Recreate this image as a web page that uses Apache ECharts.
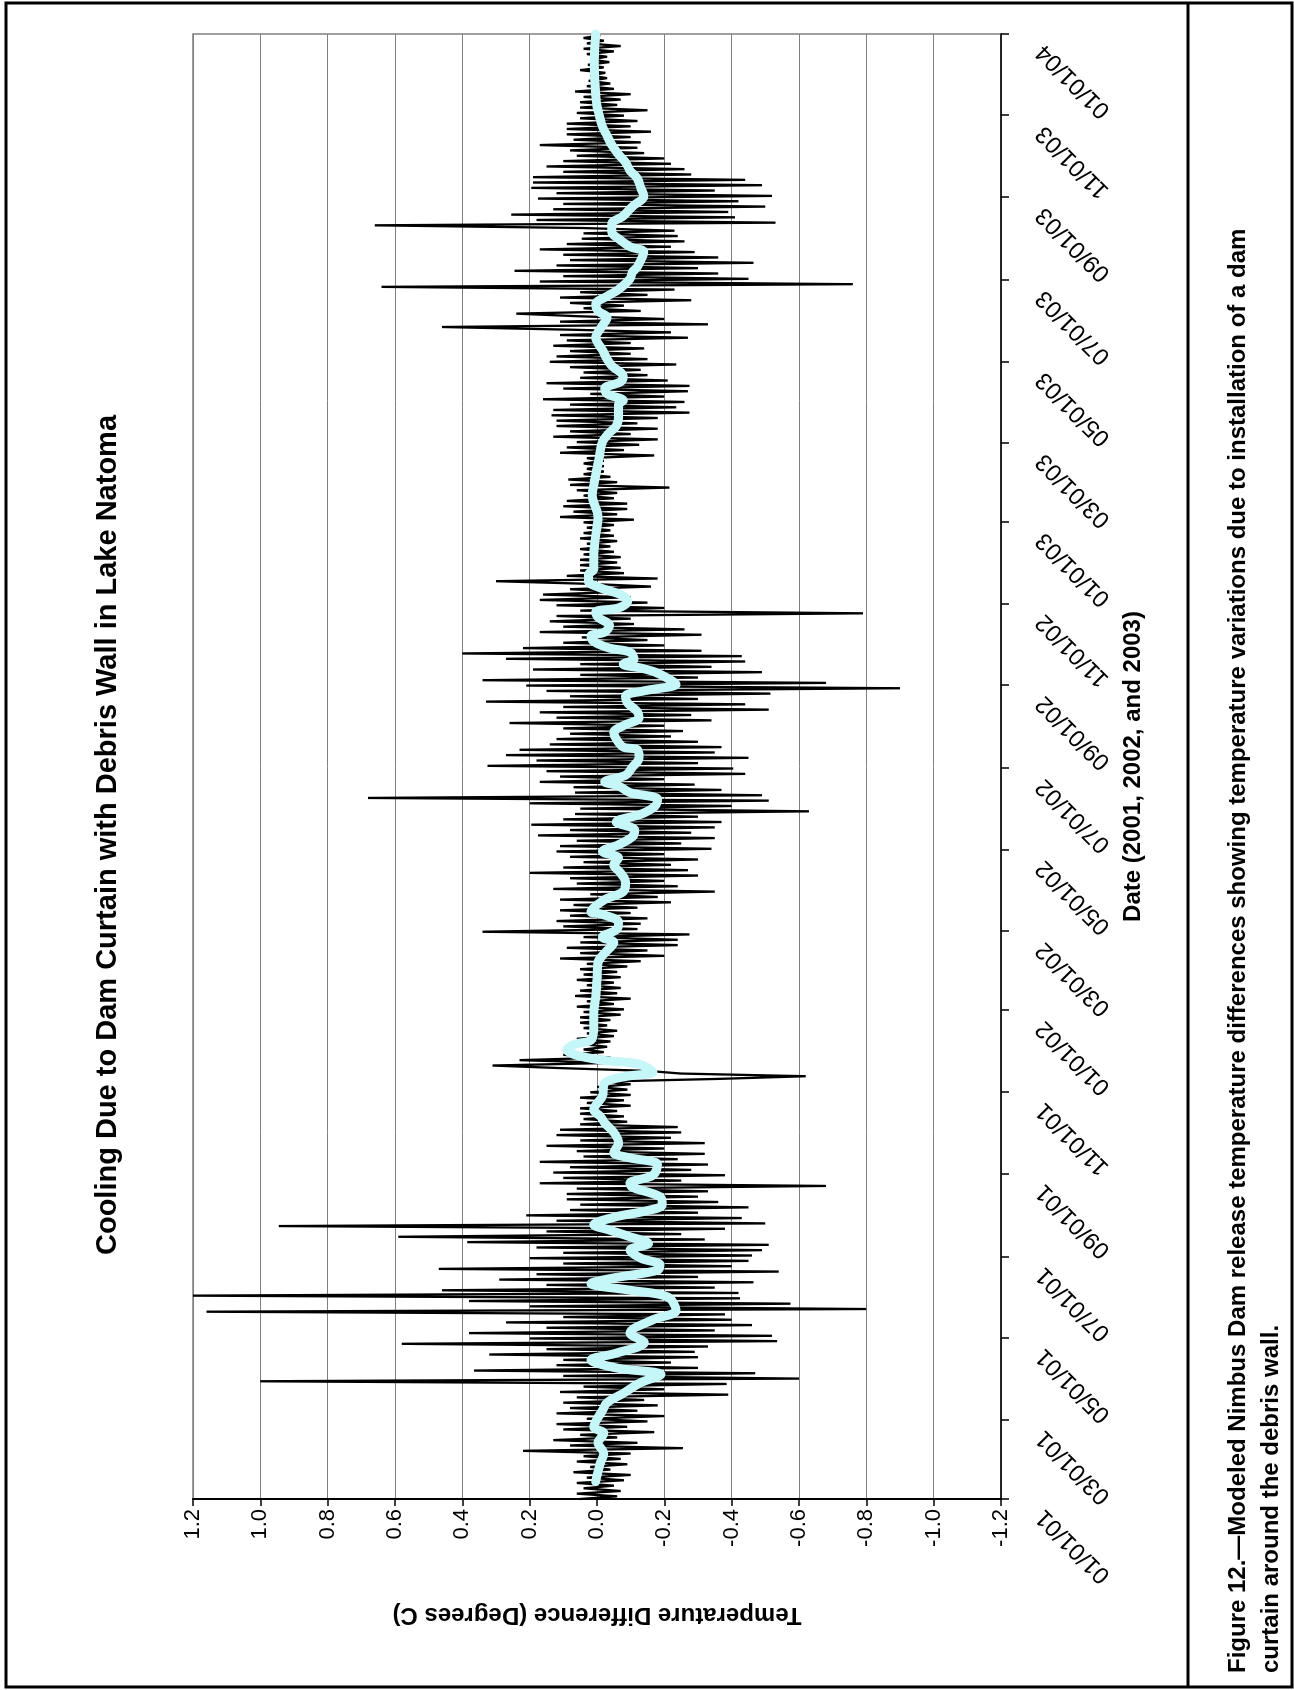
<!DOCTYPE html>
<html><head><meta charset="utf-8">
<script src="https://cdn.jsdelivr.net/npm/echarts@6/dist/echarts.min.js"></script>
<style>
html,body{margin:0;padding:0;background:#fff;width:1294px;height:1690px;overflow:hidden;}
#chart{position:absolute;left:0;top:0;width:1690px;height:1294px;transform-origin:0 0;transform:translateY(1690px) rotate(-90deg);background:#fff;}
</style></head><body><div id="chart"></div>
<script>
const titleText = 'Cooling Due to Dam Curtain with Debris Wall in Lake Natoma';
const xAxisName = 'Date (2001, 2002, and 2003)';
const yAxisName = 'Temperature Difference (Degrees C)';
const captionLines = [
  'Figure 12.\u2014Modeled Nimbus Dam release temperature differences showing temperature variations due to installation of a dam',
  'curtain around the debris wall.'
];
const tickLabels = ['01/01/01','03/01/01','05/01/01','07/01/01','09/01/01','11/01/01',
  '01/01/02','03/01/02','05/01/02','07/01/02','09/01/02','11/01/02',
  '01/01/03','03/01/03','05/01/03','07/01/03','09/01/03','11/01/03','01/01/04'];
const valueMin = -1.2, valueMax = 1.2, valueStep = 0.2;
const startDate = Date.UTC(2001, 0, 1);
const dailyStepDays = 2;
// temperature difference, one value every 2 days from 01/01/01
const dailyDiff = [
 0.05,-0.06,0.06,-0.07,0.04,-0.05,0.06,-0.08,0.03,-0.10,
 0.07,-0.04,0.02,-0.09,0.06,-0.07,0.04,-0.10,0.22,-0.255,
 0.08,-0.12,0.13,-0.06,0.05,-0.17,0.10,-0.09,0.12,-0.15,
 0.03,-0.20,0.12,-0.12,0.08,-0.18,0.10,-0.14,0.06,-0.39,
 0.11,-0.20,0.04,-0.385,1.0,-0.60,0.10,-0.47,0.365,-0.30,
 0.12,-0.22,0.10,-0.30,0.32,-0.29,0.15,-0.33,0.58,-0.535,
 0.20,-0.52,0.38,-0.35,0.15,-0.46,0.27,-0.40,0.10,-0.38,
 1.16,-0.80,0.20,-0.575,0.38,-0.425,1.2,-0.42,0.46,-0.35,
 0.15,-0.465,0.29,-0.30,0.18,-0.54,0.47,-0.40,0.10,-0.45,
 0.20,-0.46,0.10,-0.49,0.18,-0.51,0.385,-0.32,0.59,-0.25,
 0.15,-0.38,0.945,-0.50,0.12,-0.43,0.21,-0.30,0.08,-0.45,
 0.05,-0.36,0.09,-0.30,0.09,-0.33,0.06,-0.68,0.17,-0.25,
 0.10,-0.38,0.13,-0.28,0.08,-0.33,0.17,-0.24,0.04,-0.32,
 0.06,-0.20,0.15,-0.32,0.05,-0.22,0.12,-0.25,0.11,-0.24,
 0.05,-0.09,0.04,-0.08,0.05,-0.06,0.05,-0.10,0.03,-0.08,
 0.05,-0.10,0.02,-0.09,0.00,-0.10,-0.02,-0.36,-0.62,-0.25,
 -0.15,0.10,0.31,-0.05,0.23,-0.04,0.10,-0.02,0.04,-0.03,
 0.04,-0.04,0.06,-0.05,0.03,-0.06,0.04,-0.03,0.05,-0.04,
 0.05,-0.07,0.04,-0.08,0.06,-0.05,0.03,-0.10,0.065,-0.06,
 0.05,-0.07,0.03,-0.05,0.06,-0.07,0.04,-0.06,0.05,-0.09,
 0.03,-0.13,0.11,-0.20,0.05,-0.15,0.09,-0.24,0.05,-0.24,
 0.04,-0.275,0.34,-0.12,0.10,-0.13,0.12,-0.15,0.08,-0.10,
 0.11,-0.12,0.07,-0.22,0.11,-0.18,0.02,-0.35,0.13,-0.24,
 0.06,-0.20,0.08,-0.30,0.20,-0.27,0.10,-0.22,0.04,-0.30,
 0.08,-0.20,0.12,-0.34,0.11,-0.25,0.06,-0.35,0.175,-0.28,
 0.08,-0.35,0.195,-0.37,0.10,-0.30,0.065,-0.63,0.05,-0.40,
 0.20,-0.51,0.68,-0.49,0.065,-0.37,0.07,-0.29,0.17,-0.20,
 0.11,-0.44,0.15,-0.405,0.325,-0.30,0.18,-0.45,0.27,-0.35,
 0.23,-0.37,0.14,-0.30,0.12,-0.22,0.08,-0.255,0.10,-0.20,
 0.26,-0.34,0.12,-0.28,0.17,-0.51,0.10,-0.44,0.33,-0.30,
 0.08,-0.515,0.15,-0.90,0.21,-0.68,0.34,-0.30,0.05,-0.49,
 0.19,-0.34,0.05,-0.44,0.27,-0.43,0.40,-0.31,0.22,-0.20,
 0.10,-0.15,0.045,-0.31,0.17,-0.26,0.10,-0.11,0.14,-0.10,
 0.12,-0.79,0.05,-0.20,0.12,-0.15,0.17,-0.10,0.16,-0.07,
 0.08,-0.16,0.02,0.30,-0.18,0.09,-0.08,0.05,-0.07,0.05,
 -0.06,0.05,-0.07,0.04,-0.05,0.05,-0.04,0.03,-0.06,0.05,
 -0.05,0.04,-0.04,0.03,-0.05,0.04,-0.11,0.11,-0.06,0.07,
 -0.09,0.10,-0.09,0.09,-0.05,0.04,-0.06,0.06,-0.215,0.08,
 -0.06,0.085,-0.04,0.04,-0.02,0.03,-0.02,0.04,-0.02,0.03,
 -0.17,0.11,-0.08,0.09,-0.125,0.06,-0.18,0.13,-0.10,0.08,
 -0.18,0.12,-0.12,0.12,-0.18,0.135,-0.275,0.13,-0.235,0.08,
 -0.26,0.16,-0.20,0.02,-0.27,0.10,-0.275,0.15,-0.21,0.05,
 -0.15,0.04,-0.13,0.08,-0.235,0.14,-0.15,0.12,-0.10,0.08,
 -0.14,0.13,-0.10,0.09,-0.27,0.11,-0.22,0.08,0.46,-0.33,
 0.11,-0.20,0.05,0.24,-0.13,0.04,-0.08,0.08,-0.28,0.11,
 -0.15,0.05,-0.23,0.64,-0.76,0.17,-0.45,0.10,-0.36,0.245,
 -0.30,0.12,-0.465,0.08,-0.36,0.10,-0.29,0.17,-0.22,0.09,
 -0.26,0.045,-0.24,0.04,-0.23,0.045,0.66,-0.53,0.18,-0.41,
 0.255,-0.39,0.13,-0.50,0.10,-0.42,0.175,-0.52,0.12,-0.35,
 0.195,-0.49,0.19,-0.44,0.19,-0.28,0.10,-0.26,0.15,-0.22,
 0.10,-0.20,0.06,-0.14,0.08,-0.12,0.17,-0.13,0.07,-0.10,
 0.09,-0.16,0.09,-0.10,0.09,-0.12,0.05,-0.08,0.06,-0.15,
 0.05,-0.06,0.05,-0.07,0.04,-0.10,0.065,-0.05,0.03,-0.04,
 0.025,-0.03,0.02,-0.025,0.05,-0.02,0.027,-0.037,0.02,-0.03,
 0.03,-0.05,0.04,-0.07,0.03,-0.02,0.04,-0.01
];
// running-average curve: day offsets and values
const smoothDays = [13,27,34,42,49,54,61,66,72,79,87,93,98,104,109,117,124,134,141,151,156,161,165,171,175,180,186,191,196,201,205,211,215,220,226,233,236,242,250,255,259,266,274,281,286,291,301,311,316,319,325,328,332,336,340,343,351,363,375,388,401,408,416,420,426,431,437,439,448,454,461,468,474,479,484,489,495,500,506,512,518,523,528,533,536,541,547,554,560,562,568,573,578,584,589,595,600,604,609,612,618,621,624,628,633,636,641,645,648,653,659,663,666,671,676,681,686,691,695,705,720,734,750,760,770,779,790,797,802,810,818,821,826,830,835,839,847,852,859,868,877,883,888,893,899,904,912,917,921,932,936,942,947,953,959,966,974,980,987,993,999,1005,1012,1019,1026,1034,1041,1049,1061,1074,1086,1095];
const smoothDiff = [0.004,-0.01,-0.02,-0.003,-0.02,0.01,-0.003,-0.016,-0.03,-0.078,-0.13,-0.19,-0.057,0.018,-0.057,-0.14,-0.098,-0.166,-0.235,-0.21,-0.10,0.018,-0.044,-0.18,-0.187,-0.13,-0.098,-0.153,-0.098,-0.037,0.01,-0.057,-0.14,-0.194,-0.187,-0.105,-0.098,-0.166,-0.18,-0.098,-0.05,-0.064,-0.05,-0.023,-0.01,0.01,-0.016,-0.023,-0.09,-0.166,-0.125,-0.016,0.065,0.09,0.065,0.018,0.01,0.01,0.004,0.0,-0.003,-0.023,-0.05,-0.016,-0.06,-0.064,-0.016,0.018,-0.023,-0.078,-0.085,-0.07,-0.05,-0.064,-0.016,-0.064,-0.105,-0.112,-0.057,-0.132,-0.173,-0.18,-0.098,-0.064,-0.023,-0.085,-0.105,-0.125,-0.12,-0.078,-0.057,-0.05,-0.078,-0.125,-0.118,-0.091,-0.085,-0.139,-0.235,-0.22,-0.173,-0.132,-0.078,-0.11,-0.098,-0.037,0.01,0.018,-0.023,-0.037,-0.003,0.004,-0.064,-0.091,-0.07,-0.01,0.025,0.025,0.01,0.01,0.004,-0.003,0.014,0.008,0.0,-0.007,-0.016,-0.037,-0.057,-0.064,-0.064,-0.078,-0.03,-0.023,-0.07,-0.078,-0.044,-0.03,-0.016,0.004,-0.016,-0.03,-0.003,0.004,-0.03,-0.064,-0.098,-0.105,-0.12,-0.139,-0.098,-0.064,-0.044,-0.044,-0.078,-0.105,-0.139,-0.13,-0.12,-0.098,-0.085,-0.064,-0.044,-0.03,-0.016,-0.007,0.0,0.004,0.007,0.008,0.007,0.004];

const DAY = 86400000;
function labelToDay(s) {
  const p = s.split('/');
  return Math.round((Date.UTC(2000 + (+p[2]), (+p[0]) - 1, +p[1]) - startDate) / DAY);
}
const tickDays = tickLabels.map(labelToDay);
const labelByDay = {};
tickDays.forEach((d, i) => { labelByDay[d] = tickLabels[i]; });
const dailySeries = dailyDiff.map((v, i) => [i * dailyStepDays, v]);
const smoothSeries = smoothDays.map((d, i) => [d, smoothDiff[i]]);

const FONT = 'Liberation Sans, Arial, Helvetica, sans-serif';
const chart = echarts.init(document.getElementById('chart'), null, {width: 1690, height: 1294, renderer: 'canvas'});
chart.setOption({
  animation: false,
  backgroundColor: '#fff',
  textStyle: {fontFamily: FONT},
  grid: {left: 191, right: 34, top: 193, bottom: 293, containLabel: false, outerBoundsMode: 'none',
    show: true, borderColor: '#808080', borderWidth: 1.5, backgroundColor: 'transparent'},
  xAxis: {
    type: 'value', min: 0, max: tickDays[tickDays.length - 1],
    name: xAxisName, nameLocation: 'middle', nameGap: 119,
    nameTextStyle: {fontFamily: FONT, fontSize: 24, fontWeight: 'bold', color: '#000'},
    axisLine: {show: true, onZero: false, lineStyle: {color: '#000', width: 1.5}},
    axisTick: {show: true, inside: false, length: 8, customValues: tickDays, lineStyle: {color: '#000', width: 1.5}},
    axisLabel: {show: true, customValues: tickDays, rotate: 45, margin: 25, padding: [0, 20, 0, 0],
      fontFamily: FONT, fontSize: 24, color: '#000', hideOverlap: false,
      formatter: v => labelByDay[Math.round(v)] || ''},
    splitLine: {show: false}
  },
  yAxis: {
    type: 'value', min: valueMin, max: valueMax, interval: valueStep,
    name: yAxisName, nameLocation: 'middle', nameGap: 104, nameRotate: 90,
    nameTextStyle: {fontFamily: FONT, fontSize: 24, fontWeight: 'bold', color: '#000'},
    axisLine: {show: true, onZero: false, lineStyle: {color: '#000', width: 2}},
    axisTick: {show: true, inside: false, length: 7, lineStyle: {color: '#000', width: 1.5}},
    axisLabel: {fontFamily: FONT, fontSize: 22, color: '#000', margin: 10,
      formatter: v => (Math.abs(v) < 1e-9 ? '0.0' : v.toFixed(1))},
    splitLine: {show: true, lineStyle: {color: '#808080', width: 1}}
  },
  series: [
    {type: 'line', data: dailySeries, showSymbol: false, symbol: 'none', z: 2,
      lineStyle: {color: '#000', width: 2.3}, clip: true},
    {type: 'line', data: smoothSeries, showSymbol: false, symbol: 'none', z: 3, smooth: 0.35,
      lineStyle: {color: '#c6f7f8', width: 9, cap: 'round', join: 'round'}, clip: true}
  ],
  graphic: [
    {type: 'rect', shape: {x: 3, y: 6, width: 1684, height: 1286}, style: {fill: 'none', stroke: '#000', lineWidth: 3}, z: 10},
    {type: 'line', shape: {x1: 3, y1: 1188, x2: 1687, y2: 1188}, style: {stroke: '#000', lineWidth: 3}, z: 10},
    {type: 'text', x: 855, y: 108, style: {text: titleText, font: 'bold 29px ' + FONT, fill: '#000', textAlign: 'center', textVerticalAlign: 'middle'}, z: 10},
    {type: 'text', x: 17, y: 1238, style: {text: captionLines[0], font: 'bold 24px ' + FONT, fill: '#000', textAlign: 'left', textVerticalAlign: 'middle'}, z: 10},
    {type: 'text', x: 17, y: 1271, style: {text: captionLines[1], font: 'bold 24px ' + FONT, fill: '#000', textAlign: 'left', textVerticalAlign: 'middle'}, z: 10}
  ]
});
</script></body></html>
